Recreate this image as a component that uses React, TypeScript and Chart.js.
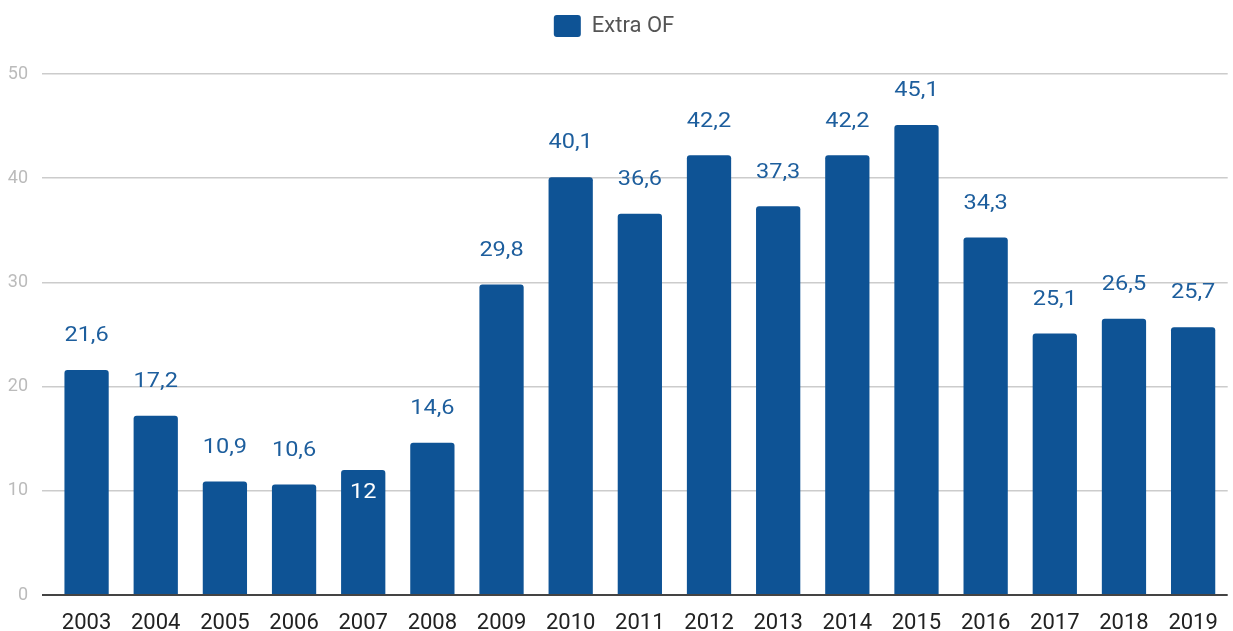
import React, { useEffect, useRef } from "react";
import { Chart, registerables } from "chart.js";

Chart.register(...registerables);

const categories = ["2003", "2004", "2005", "2006", "2007", "2008", "2009", "2010", "2011", "2012", "2013", "2014", "2015", "2016", "2017", "2018", "2019"];
const extraOF = [21.6, 17.2, 10.9, 10.6, 12, 14.6, 29.8, 40.1, 36.6, 42.2, 37.3, 42.2, 45.1, 34.3, 25.1, 26.5, 25.7];
const yTicks = [0, 10, 20, 30, 40, 50];
const insideLabelCategories = ["2007"];
const seriesName = "Extra OF";

const BAR_COLOR = "#0e5395";
const LABEL_COLOR = "#1d5e9d";
const FONT = "Roboto";

const valueLabelPlugin = {
  id: "valueLabels",
  afterDatasetsDraw(chart: any) {
    const ctx = chart.ctx;
    const meta = chart.getDatasetMeta(0);
    ctx.save();
    ctx.font = `21px ${FONT}`;
    ctx.textAlign = "center";
    ctx.textBaseline = "middle";
    meta.data.forEach((bar: any, i: number) => {
      const v = extraOF[i];
      const text = String(v).replace(".", ",");
      const inside = insideLabelCategories.includes(categories[i]);
      const y = inside ? bar.y + 23 : bar.y - 34;
      ctx.fillStyle = inside ? "#ffffff" : LABEL_COLOR;
      ctx.save();
      ctx.translate(bar.x, y);
      ctx.scale(1.12, 1);
      ctx.fillText(text, 0, 0);
      ctx.restore();
    });
    ctx.restore();
  },
};

const legendSpacingPlugin = {
  id: "legendSpacing",
  beforeInit(chart: any) {
    const legend = chart.legend;
    if (!legend) return;
    const originalFit = legend.fit;
    legend.fit = function fit() {
      originalFit.bind(legend)();
      this.height += 27;
    };
  },
};

export default function App() {
  const ref = useRef<HTMLCanvasElement | null>(null);

  useEffect(() => {
    document.body.style.margin = "0";
    const canvas = ref.current!;
    const chart = new Chart(canvas, {
      type: "bar",
      data: {
        labels: categories,
        datasets: [
          {
            label: seriesName,
            data: extraOF,
            backgroundColor: BAR_COLOR,
            borderWidth: 0,
            borderRadius: { topLeft: 3, topRight: 3, bottomLeft: 0, bottomRight: 0 },
            borderSkipped: "start",
            categoryPercentage: 1,
            barPercentage: 0.64,
          },
        ],
      },
      options: {
        responsive: false,
        animation: false,
        layout: { padding: { top: 0, right: 5, left: 0, bottom: 0 } },
        plugins: {
          tooltip: { enabled: false },
          legend: {
            display: true,
            position: "top",
            labels: {
              boxWidth: 27,
              boxHeight: 22,
              padding: 15,
              color: "#555555",
              font: { family: FONT, size: 22 },
              generateLabels: () => [
                {
                  text: seriesName,
                  fillStyle: BAR_COLOR,
                  strokeStyle: BAR_COLOR,
                  fontColor: "#555555",
                  lineWidth: 0,
                  borderRadius: 3,
                  hidden: false,
                  datasetIndex: 0,
                } as any,
              ],
            },
          },
        },
        scales: {
          x: {
            grid: { display: false, drawTicks: false },
            border: { display: false },
            ticks: {
              color: "#222222",
              font: { family: FONT, size: 22 },
              padding: 15,
              maxRotation: 0,
              autoSkip: false,
            },
            afterFit: (scale: any) => {
              scale.height = 36;
            },
          },
          y: {
            min: 0,
            max: 50,
            afterBuildTicks: (scale: any) => {
              scale.ticks = yTicks.map((v) => ({ value: v }));
            },
            grid: {
              color: (c: any) => (c.tick && c.tick.value === 0 ? "#444444" : "#cccccc"),
              lineWidth: (c: any) => (c.tick && c.tick.value === 0 ? 2 : 1.5),
              tickLength: 10,
            },
            border: { display: false },
            ticks: {
              color: "#bbbbbb",
              font: { family: FONT, size: 18 },
              padding: 14,
            },
            afterFit: (scale: any) => {
              scale.width = 52;
            },
          },
        },
      },
      plugins: [legendSpacingPlugin, valueLabelPlugin],
    });
    return () => chart.destroy();
  }, []);

  return (
    <div style={{ position: "fixed", left: 0, top: 0, width: 1233, height: 631, background: "#fff" }}>
      <canvas ref={ref} width={1233} height={631} />
    </div>
  );
}
